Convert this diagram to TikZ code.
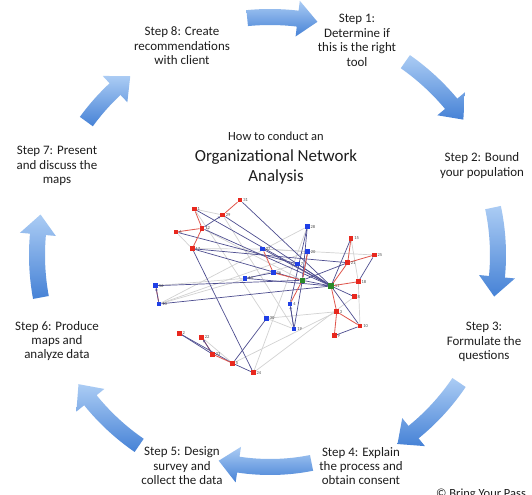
\documentclass[tikz,border=0pt]{standalone}
\usepackage{fontspec}
\setmainfont{Carlito}
\usetikzlibrary{arrows.meta}
\pgfdeclarelayer{back}
\pgfdeclarelayer{bg}
\pgfsetlayers{back,bg,main}
\definecolor{arrLight}{HTML}{ABCCF4}
\definecolor{arrDark}{HTML}{4682D6}
\definecolor{txt}{HTML}{1E1E1E}
\definecolor{nred}{HTML}{E8281E}
\definecolor{nblue}{HTML}{1F3FE6}
\definecolor{ngreen}{HTML}{2A8A2A}
\definecolor{ered}{HTML}{E0564C}
\definecolor{enavy}{HTML}{4E4E90}
\definecolor{egray}{HTML}{D2D2D2}
\newcommand{\flowarrow}[3]{%
  \pgfmathsetmacro{\hA}{#3-20/#1*57.2958}%
  \pgfmathsetmacro{\rO}{#1+8}\pgfmathsetmacro{\rI}{#1-8}%
  \pgfmathsetmacro{\rHO}{#1+18}\pgfmathsetmacro{\rHI}{#1-18}%
  \shade[top color=arrLight, bottom color=arrDark, shift={(270,255)}]
    (#2:\rO) arc[start angle=#2, end angle=\hA, radius=\rO]
    -- (\hA:\rHO) -- (#3:#1) -- (\hA:\rHI) -- (\hA:\rI)
    arc[start angle=\hA, end angle=#2, radius=\rI] -- cycle;}
\tikzset{
  steptxt/.style={align=center, text=txt, font=\fontsize{13}{14.5}\selectfont, inner sep=0pt},
  rn/.style={rectangle, fill=nred, minimum size=4.5bp, inner sep=0pt},
  bn/.style={rectangle, fill=nblue, minimum size=4.5bp, inner sep=0pt},
  gn/.style={rectangle, fill=ngreen, minimum size=5.5bp, inner sep=0pt},
  lbl/.style={font=\fontsize{4.5}{5}\selectfont, text=black!70, inner sep=0.6bp},
  er/.style={draw=ered, line width=0.8bp},
  en/.style={draw=enavy, line width=0.7bp},
  eg/.style={draw=egray, line width=0.7bp},
  tip/.style={-{Stealth[length=2.5bp,width=2.5bp]}}
}
\begin{document}
\begin{tikzpicture}[x=1bp,y=-1bp]
\useasboundingbox (0,0) rectangle (532,495);
\begin{pgfonlayer}{back}
\fill[white] (0,0) rectangle (532,495);
\end{pgfonlayer}
% cycle arrows
\flowarrow{238}{264.5}{281.5}
\flowarrow{236}{305}{325}
\flowarrow{228}{-12}{10.5}
\flowarrow{228}{34}{56}
\flowarrow{212}{78.7}{104}
\flowarrow{231}{124.5}{146}
\flowarrow{233}{169.5}{190}
\flowarrow{227}{216}{232}
% step texts
\node[steptxt] (s8) at (182,46) {Step 8: Create\\recommendations\\with client};
\node[steptxt] (s1) at (357,40.5) {Step 1:\\Determine if\\this is the right\\tool};
\node[steptxt] (s2) at (482,165.5) {Step 2: Bound\\your population};
\node[steptxt] (s3) at (484,342) {Step 3:\\Formulate the\\questions};
\node[steptxt] (s4) at (361,466) {Step 4: Explain\\the process and\\obtain consent};
\node[steptxt] (s5) at (182,466) {Step 5: Design\\survey and\\collect the data};
\node[steptxt] (s6) at (57,341) {Step 6: Produce\\maps and\\analyze data};
\node[steptxt] (s7) at (57,166) {Step 7: Present\\and discuss the\\maps};
\node[text=txt, font=\fontsize{12.5}{14}\selectfont, inner sep=0pt] (t1) at (276,136) {How to conduct an};
\node[text=txt, align=center, font=\fontsize{17}{20}\selectfont, inner sep=0pt] (t2) at (276,167) {Organizational Network\\Analysis};
\node[anchor=base west, text=txt, font=\fontsize{12.5}{14}\selectfont, inner sep=0pt] (cr) at (436,497) {© Bring Your Pass};
% network nodes
\node[rn, label={[lbl]0:31}] (n31) at (240,200) {};
\node[rn, label={[lbl]0:1}] (n1) at (194.3,209) {};
\node[rn, label={[lbl]0:29}] (n29) at (222.7,215) {};
\node[rn, label={[lbl]0:12}] (n12) at (202,228.3) {};
\node[rn, label={[lbl]0:6}] (n6) at (176,232) {};
\node[rn, label={[lbl]0:17}] (n17) at (192.3,248.7) {};
\node[bn, label={[lbl]0:28}] (n28) at (307.3,226.7) {};
\node[bn, label={[lbl]0:20}] (n20) at (307.7,251.7) {};
\node[rn, label={[lbl]0:15}] (n15) at (351,238.3) {};
\node[rn, label={[lbl]0:25}] (n25) at (374.3,255) {};
\node[rn, label={[lbl]0:21}] (n21) at (347.7,262.7) {};
\node[bn, label={[lbl]0:27}] (n27) at (262.7,249) {};
\node[bn, label={[lbl]0:7}] (n7) at (297.7,264) {};
\node[bn, label={[lbl]0:26}] (n26) at (273.3,272.7) {};
\node[bn, label={[lbl]0:14}] (n14) at (245,278.3) {};
\node[gn] (g1) at (302.3,280.3) {};
\node[gn, label={[lbl]0:11}] (g2) at (331,286) {};
\node[rn, label={[lbl]0:18}] (n18) at (358.3,281.7) {};
\node[bn, label={[lbl]0:16}] (n16) at (155.7,285.7) {};
\node[bn, label={[lbl]0:13}] (n13) at (159,304) {};
\node[rn, label={[lbl]0:8}] (n9) at (354.3,296.7) {};
\node[bn, label={[lbl]0:4}] (n4) at (290,304) {};
\node[rn, label={[lbl]0:3}] (n3) at (336.7,311.7) {};
\node[bn, label={[lbl]0:30}] (n30) at (266.7,318.3) {};
\node[rn, label={[lbl]0:10}] (n10) at (360,326) {};
\node[bn, label={[lbl]0:19}] (n19) at (294,329) {};
\node[rn, label={[lbl]0:9}] (n5) at (334.3,335.7) {};
\node[rn, label={[lbl]0:2}] (n2) at (179.3,333.3) {};
\node[rn, label={[lbl]0:22}] (n22) at (201.7,337.3) {};
\node[rn, label={[lbl]0:23}] (n23) at (212.7,354.3) {};
\node[rn, label={[lbl]0:5}] (n11) at (232.7,363.3) {};
\node[rn, label={[lbl]0:24}] (n24) at (253.3,372.7) {};
% network edges
\begin{pgfonlayer}{bg}
\foreach \a/\b in {n1/n29, n6/n17, n13/n20, n13/n7, n16/n14, n30/n3, n11/n3, n24/n28, n29/n19, n1/n30, n27/n25, n22/n11, n18/n10, n15/n18, n27/n20, n12/g1, n13/n28, n24/n9, n17/n27, n30/n19}
  \draw[eg] (\a) -- (\b);
\foreach \a/\b in {n31/g2, n29/g2, n1/g2, n12/g2, n17/n21, n17/g1, n6/n7, n16/g1, n13/g2, n14/g2, n17/n24, n30/n11, n27/g2, n25/n18, n15/g2, g2/n10, g2/n9, n10/n5, n19/g1, n4/n19, n28/g1, n28/n4, n2/n11, n2/n23, n11/n24, n14/n26, g1/g2, n7/g2, n21/g1, n20/g1}
  \draw[en] (\a) -- (\b);
\foreach \a/\b in {n31/n29, n1/n12, n6/n12, n12/n17, n27/n26, n26/g1, g1/n20, n15/n21, n21/n25, n21/g2, g2/n18, g2/n3, n3/n10, n3/n5, n16/n13, n4/g1, n22/n23, n23/n11}
  \draw[er] (\a) -- (\b);
\draw[en, tip] (n12) -- (n29);
\draw[en, tip] (n23) -- (n22);
\draw[en, tip] (n13) -- (n16);
\draw[en, tip] (n19) -- (n4);
\end{pgfonlayer}
\end{tikzpicture}
\end{document}
